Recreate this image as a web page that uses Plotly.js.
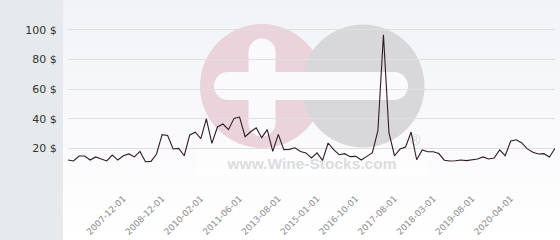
<!DOCTYPE html>
<html>
<head>
<meta charset="utf-8">
<script src="https://cdn.plot.ly/plotly-3.0.1.min.js"></script>
<style>
  html, body { margin: 0; padding: 0; }
  #chart {
    width: 560px; height: 240px;
    background:
      linear-gradient(90deg, #e7eaed 0px, #e7eaed 63px, rgba(0,0,0,0) 63px),
      linear-gradient(180deg, #f2f3f7 0%, #ffffff 100%);
  }
</style>
</head>
<body>
<div id="chart"></div>
<script>
// ---- data ----
const prices = [
  12.1, 11.5, 14.8, 14.8, 12.1, 14.2, 12.8, 11.5, 15.5, 12.1,
  15.0, 16.2, 14.2, 17.9, 11.0, 11.2, 16.2, 29.2, 28.7, 19.6,
  20.0, 15.0, 29.0, 30.9, 26.5, 39.8, 23.3, 34.4, 36.4, 32.6,
  40.2, 41.1, 27.8, 31.2, 33.9, 27.2, 32.6, 17.9, 29.4, 19.1,
  19.3, 20.4, 17.9, 16.9, 13.5, 16.9, 11.9, 23.6, 19.1, 15.7,
  16.4, 14.4, 14.6, 12.1, 14.6, 17.1, 31.9, 96.6, 30.4, 15.0,
  19.5, 20.9, 31.0, 12.3, 18.9, 17.7, 17.7, 16.5, 12.0, 11.5,
  11.6, 12.1, 11.7, 12.1, 12.8, 14.2, 12.8, 13.5, 18.9, 15.0,
  24.9, 25.8, 23.6, 19.6, 17.3, 16.2, 16.4, 14.2, 20.0
];
const pointIndex = prices.map((_, i) => i);
const tickIndex = [10, 17, 24, 31, 38, 45, 52, 59, 66, 73, 80];
const tickDates = ['2007-12-01', '2008-12-01', '2010-02-01', '2011-06-01', '2013-08-01',
  '2015-01-01', '2016-10-01', '2017-08-01', '2018-03-01', '2019-08-01', '2020-04-01'];
const yTickValues = [0, 20, 40, 60, 80, 100];
const yTickLabels = ['', '20 $', '40 $', '60 $', '80 $', '100 $'];

// ---- watermark helpers (pixel -> paper) ----
const L = 68, PW = 487, PH = 178;
const px = x => (x - L) / PW;
const py = y => (PH - y) / PH;
function circ(cx, cy, r, color) {
  return { type: 'circle', xref: 'paper', yref: 'paper', layer: 'below',
    x0: px(cx - r), x1: px(cx + r), y0: py(cy + r), y1: py(cy - r),
    fillcolor: color, line: { width: 0 } };
}
function rect(x0, y0, x1, y1, color, extra) {
  return Object.assign({ type: 'rect', xref: 'paper', yref: 'paper', layer: 'below',
    x0: px(x0), x1: px(x1), y0: py(y1), y1: py(y0),
    fillcolor: color, line: { width: 0 } }, extra || {});
}
const pink = '#ebd3db', grey = '#d8d8da', white = '#fafafc';
const shapes = [
  circ(262, 86, 62, pink),
  circ(363, 86, 61.5, grey),
  // horizontal white bar (plus + minus)
  rect(228, 72, 394, 100, white),
  circ(228, 86, 14, white),
  circ(394, 86, 14, white),
  // vertical bar of plus
  rect(248.5, 52, 275.5, 123, white),
  circ(262, 52, 13.5, white),
  circ(262, 123, 13.5, white),
  // text strip
  rect(196, 148, 428, 176, 'rgba(255,255,255,0.55)', {
    label: { text: 'www.Wine-Stocks.com', textposition: 'middle center',
      font: { family: 'Liberation Sans, Arial, sans-serif', size: 15.5, color: '#dcdcdf', weight: 'bold' } }
  }),
  rect(405, 128, 425, 148, 'rgba(0,0,0,0)', {
    label: { text: '®', textposition: 'middle center',
      font: { family: 'Liberation Sans, Arial, sans-serif', size: 15, color: '#d6d6d9' } }
  })
];

const trace = {
  x: pointIndex, y: prices, type: 'scatter', mode: 'lines',
  line: { color: '#2e1c25', width: 1.1 }, hoverinfo: 'skip'
};

const layout = {
  width: 560, height: 240,
  margin: { l: 68, r: 5, t: 0, b: 62, pad: 0 },
  paper_bgcolor: 'rgba(0,0,0,0)', plot_bgcolor: 'rgba(0,0,0,0)',
  showlegend: false,
  shapes: shapes,
  xaxis: {
    range: [0, prices.length - 1], showgrid: false, zeroline: false, showline: false,
    tickmode: 'array', tickvals: tickIndex, ticktext: tickDates, tickangle: -45,
    ticks: 'outside', ticklen: 11, tickcolor: 'rgba(0,0,0,0)',
    tickfont: { family: 'DejaVu Sans, sans-serif', size: 8.8, color: '#8c8c8c' }
  },
  yaxis: {
    range: [0, 120], showgrid: true, gridcolor: '#e0e0e0', gridwidth: 1,
    zeroline: false, showline: false,
    tickmode: 'array', tickvals: yTickValues, ticktext: yTickLabels,
    ticks: 'outside', ticklen: 8, tickcolor: 'rgba(0,0,0,0)',
    tickfont: { family: 'DejaVu Sans, sans-serif', size: 11, color: '#333333' }
  }
};

Plotly.newPlot('chart', [trace], layout, { staticPlot: true, displayModeBar: false });
</script>
</body>
</html>
